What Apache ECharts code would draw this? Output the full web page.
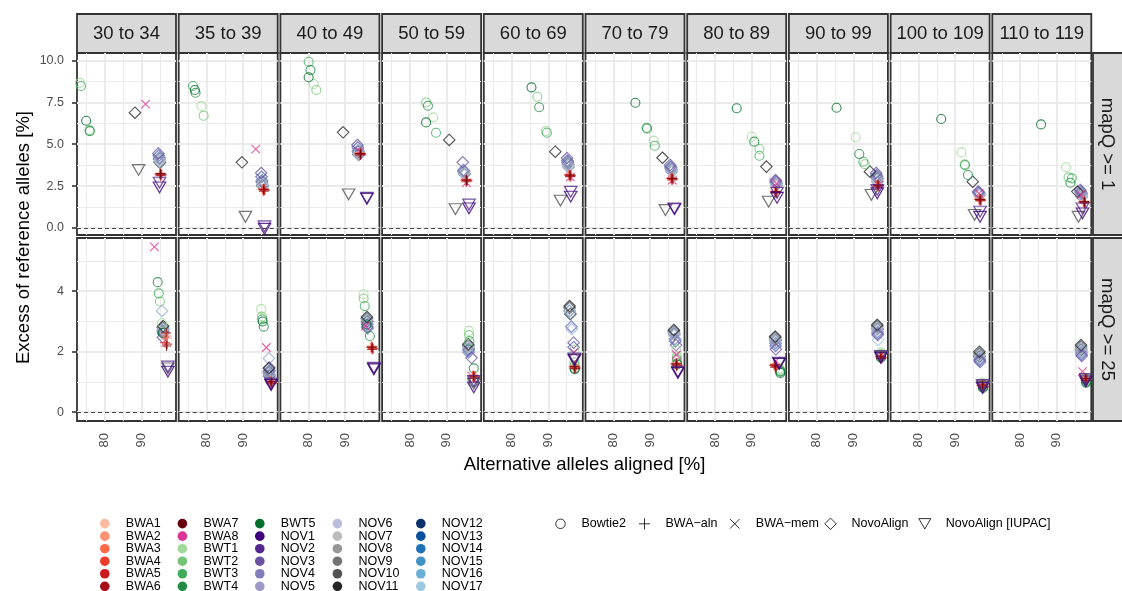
<!DOCTYPE html>
<html>
<head>
<meta charset="utf-8">
<script src="https://cdn.jsdelivr.net/npm/echarts@6/dist/echarts.min.js"></script>
<style>
  html, body { margin: 0; padding: 0; background: #fff; }
  #chart { width: 1122px; height: 591px; }
</style>
</head>
<body>
<div id="chart"></div>
<script>
// ---- facets, samples and ticks ----
const ageBins = ['30 to 34', '35 to 39', '40 to 49', '50 to 59', '60 to 69',
                 '70 to 79', '80 to 89', '90 to 99', '100 to 109', '110 to 119'];
const mapqRows = ['mapQ >= 1', 'mapQ >= 25'];
const samples = ['BWA1', 'BWA2', 'BWA3', 'BWA4', 'BWA5', 'BWA6', 'BWA7', 'BWA8',
                 'BWT1', 'BWT2', 'BWT3', 'BWT4', 'BWT5',
                 'NOV1', 'NOV2', 'NOV3', 'NOV4', 'NOV5', 'NOV6', 'NOV7', 'NOV8', 'NOV9',
                 'NOV10', 'NOV11', 'NOV12', 'NOV13', 'NOV14', 'NOV15', 'NOV16', 'NOV17'];
const sampleColors = ['#FCBBA1', '#FC9272', '#FB6A4A', '#EF3B2C', '#CB181D', '#A50F15', '#67000D', '#DD3497',
                      '#A1D99B', '#74C476', '#41AB5D', '#238B45', '#006D2C',
                      '#3F007D', '#54278F', '#6A51A3', '#807DBA', '#9E9AC8', '#BCBDDC', '#BDBDBD', '#969696', '#737373',
                      '#525252', '#252525', '#08306B', '#08519C', '#2171B5', '#4292C6', '#6BAED6', '#9ECAE1'];
const aligners = ['Bowtie2', 'BWA\u2212aln', 'BWA\u2212mem', 'NovoAlign', 'NovoAlign [IUPAC]'];
// aligner (index into aligners) used by each sample
const sampleAligner = [1, 1, 1, 1, 1, 1, 1, 2,
                       0, 0, 0, 0, 0,
                       4, 4, 3, 3, 3, 3, 3, 3, 3,
                       4, 3, 3, 3, 3, 3, 3, 3];
const xTicks = [80, 90];
const xMinorTicks = [75, 85, 95];
const yTicksTop = [0, 2.5, 5, 7.5, 10];
const yMinorTop = [1.25, 3.75, 6.25, 8.75];
const yTicksBottom = [0, 2, 4];
const yMinorBottom = [1, 3, 5];

// ---- values: [alternative aligned %, excess reference %]
// first ten pairs: mapQ >= 1, last ten: mapQ >= 25, both in ageBins order ----
const BWA1 = [[95.0,3.28],[95.4,2.35],[94.0,4.50],[95.2,2.90],[95.7,3.20],[95.8,3.00],[96.4,2.21],[96.5,2.60],[96.6,1.75],[97.3,1.61],
              [96.5,2.60],[97.4,1.05],[97.2,2.20],[97.2,1.25],[97.0,1.55],[97.0,1.65],[96.2,1.60],[97.3,1.89],[97.3,0.94],[97.7,1.16]];
const BWA2 = [[95.4,3.22],[95.8,2.28],[94.4,4.42],[95.6,2.84],[96.1,3.13],[96.2,2.93],[96.8,2.14],[96.9,2.53],[97.0,1.68],[97.7,1.54],
              [96.9,2.45],[97.8,0.98],[97.6,2.12],[97.6,1.17],[97.4,1.48],[97.4,1.57],[96.6,1.53],[97.7,1.82],[97.7,0.87],[98.1,1.09]];
const BWA3 = [[95.2,3.26],[95.6,2.33],[94.2,4.47],[95.4,2.88],[95.9,3.18],[96.0,2.98],[96.6,2.19],[96.7,2.58],[96.8,1.73],[97.5,1.59],
              [96.7,2.52],[97.6,1.03],[97.4,2.17],[97.4,1.22],[97.2,1.53],[97.2,1.62],[96.4,1.58],[97.5,1.87],[97.5,0.92],[97.9,1.14]];
const BWA4 = [[94.9,3.20],[95.3,2.30],[93.9,4.44],[95.1,2.85],[95.6,3.15],[95.7,2.95],[96.3,2.16],[96.4,2.55],[96.5,1.70],[97.2,1.56],
              [96.4,2.30],[97.3,1.00],[97.1,2.14],[97.1,1.19],[96.9,1.50],[96.9,1.59],[96.1,1.55],[97.2,1.84],[97.2,0.89],[97.6,1.11]];
const BWA5 = [[95.5,3.18],[95.9,2.26],[94.5,4.40],[95.7,2.82],[96.2,3.11],[96.3,2.91],[96.9,2.12],[97.0,2.51],[97.1,1.66],[97.8,1.52],
              [97.0,2.25],[97.9,0.97],[97.7,2.10],[97.7,1.15],[97.5,1.46],[97.5,1.55],[96.7,1.51],[97.8,1.80],[97.8,0.85],[98.2,1.07]];
const BWA6 = [[95.2,3.12],[95.6,2.20],[94.2,4.36],[95.4,2.76],[95.9,3.06],[96.0,2.86],[96.6,2.08],[96.7,2.46],[96.8,1.62],[97.5,1.48],
              [96.7,2.62],[97.6,0.94],[97.4,2.08],[97.4,1.12],[97.2,1.44],[97.2,1.52],[96.4,1.49],[97.5,1.78],[97.5,0.83],[97.9,1.05]];
const BWA7 = [[95.2,3.24],[95.6,2.31],[94.2,4.45],[95.4,2.86],[95.9,3.16],[96.0,2.96],[96.6,2.17],[96.7,2.56],[96.8,1.71],[97.5,1.57],
              [96.8,2.19],[97.6,1.01],[97.4,2.15],[97.4,1.20],[97.2,1.51],[97.2,1.60],[96.4,1.56],[97.5,1.85],[97.5,0.90],[97.9,1.12]];
const BWA8 = [[91.1,7.39],[93.4,4.71],[94.0,4.55],[95.4,2.70],[96.0,3.05],[96.1,2.85],[96.7,2.66],[96.9,2.56],[96.5,2.07],[96.6,1.97],
              [93.5,5.47],[96.3,2.14],[95.6,2.85],[96.8,1.20],[97.0,1.98],[97.2,1.90],[96.6,1.70],[97.4,1.90],[97.4,0.95],[97.0,1.34]];
const BWT1 = [[73.2,8.66],[78.6,7.27],[81.5,8.59],[86.3,6.60],[89.3,5.78],[91.0,5.21],[90.0,5.44],[90.6,5.41],[91.7,4.51],[92.5,3.62],
              [95.6,2.95],[94.9,3.41],[95.1,3.90],[96.1,2.69],[97.1,2.06],[97.2,2.06],[97.6,1.45],[97.5,1.98],[97.5,0.98],[97.9,1.12]];
const BWT2 = [[75.8,5.84],[79.2,6.70],[82.2,8.23],[84.4,7.49],[87.0,7.83],[89.0,5.98],[92.1,4.71],[93.1,3.80],[92.6,3.80],[93.2,3.02],
              [95.0,3.66],[95.1,3.16],[95.1,3.76],[96.1,2.55],[97.1,1.65],[97.3,1.84],[97.7,1.40],[97.5,1.92],[97.5,0.92],[97.9,1.08]];
const BWT3 = [[73.5,8.47],[76.3,8.47],[80.1,9.92],[87.1,5.68],[89.6,5.68],[91.3,4.91],[92.1,4.31],[92.7,3.95],[92.7,3.75],[94.1,2.96],
              [94.7,3.93],[95.2,3.07],[95.4,3.51],[96.2,2.35],[97.2,1.55],[97.3,1.75],[97.8,1.36],[97.5,1.88],[97.5,0.88],[98.0,1.04]];
const BWT4 = [[75.9,5.78],[77.0,8.07],[80.6,9.42],[84.9,7.29],[87.5,7.20],[89.2,5.94],[90.7,5.15],[91.6,4.41],[93.5,3.16],[93.7,2.70],
              [94.4,4.30],[95.6,2.83],[96.8,2.52],[97.4,1.45],[97.2,1.45],[97.4,1.62],[97.8,1.34],[97.5,1.84],[97.6,0.84],[98.0,1.01]];
const BWT5 = [[74.9,6.40],[76.8,8.23],[80.1,8.99],[84.4,6.30],[85.4,8.39],[86.0,7.47],[85.9,7.14],[85.4,7.17],[86.2,6.50],[85.7,6.18],
              [95.8,2.62],[95.3,3.00],[95.9,2.90],[97.4,1.00],[97.2,1.42],[97.4,1.58],[97.8,1.30],[97.5,1.80],[97.6,0.80],[98.0,0.98]];
const NOV1 = [[94.9,2.42],[95.8,-0.05],[96.0,1.74],[96.1,1.17],[96.1,1.87],[96.7,1.12],[96.9,1.80],[96.5,2.07],[96.8,0.67],[97.0,0.87],
              [97.2,1.34],[97.6,0.90],[97.9,1.42],[97.4,0.82],[97.1,1.72],[97.6,1.30],[97.5,1.60],[97.5,1.80],[97.5,0.80],[97.9,1.02]];
const NOV2 = [[94.9,2.70],[95.8,0.10],[96.0,1.80],[96.1,1.40],[96.1,2.16],[96.6,1.17],[96.9,2.10],[96.5,2.27],[96.8,0.97],[97.0,1.17],
              [97.2,1.51],[97.6,0.95],[97.9,1.47],[97.4,1.03],[97.1,1.78],[97.6,1.34],[97.5,1.64],[97.5,1.86],[97.5,0.90],[97.9,1.10]];
const NOV3 = [[94.6,4.45],[94.9,3.28],[93.4,4.95],[94.4,3.92],[95.1,4.17],[95.5,3.76],[96.5,2.86],[96.2,3.28],[96.3,2.17],[96.4,2.27],
              [95.8,2.48],[97.1,1.48],[96.1,2.82],[96.8,1.80],[96.9,2.30],[97.1,2.22],[96.6,2.08],[96.6,2.55],[96.7,1.70],[96.8,1.86]];
const NOV4 = [[94.7,4.32],[95.0,3.05],[93.5,4.80],[94.6,3.45],[95.2,4.02],[95.6,3.65],[96.6,2.78],[96.3,3.15],[96.4,2.12],[96.5,2.18],
              [95.9,2.60],[97.1,1.38],[96.1,2.90],[96.0,2.05],[96.9,2.15],[96.9,2.35],[96.5,2.20],[96.6,2.60],[96.7,1.75],[96.7,1.92]];
const NOV5 = [[94.9,4.20],[95.1,2.85],[93.6,4.62],[94.7,3.38],[95.3,3.88],[95.7,3.55],[96.6,2.70],[96.4,3.02],[96.5,2.07],[96.6,2.08],
              [95.8,2.70],[97.0,1.30],[96.2,2.78],[96.0,1.98],[96.3,2.83],[96.8,2.42],[96.5,2.28],[96.6,2.65],[96.8,1.66],[96.7,1.98]];
const NOV6 = [[95.0,4.05],[95.2,2.62],[93.7,4.45],[94.8,3.28],[95.4,3.75],[95.8,3.45],[96.7,2.62],[96.5,2.88],[96.6,2.02],[96.7,1.97],
              [95.6,3.35],[97.0,1.78],[96.0,2.95],[95.9,2.12],[96.4,2.75],[96.6,2.55],[96.4,2.35],[96.5,2.72],[96.7,1.80],[96.7,2.02]];
const NOV7 = [[94.9,3.95],[95.3,2.48],[93.8,4.35],[94.9,3.20],[95.5,3.64],[95.9,3.36],[96.8,2.56],[96.6,2.76],[96.7,1.97],[96.8,1.87],
              [95.9,2.75],[97.1,1.24],[96.0,3.05],[95.9,2.18],[95.8,3.35],[96.5,2.62],[96.4,2.42],[96.5,2.78],[96.6,1.88],[96.6,2.10]];
const NOV8 = [[94.8,4.12],[95.1,2.75],[93.6,4.55],[94.7,3.35],[95.3,3.94],[95.7,3.60],[96.6,2.74],[96.4,3.08],[96.5,2.10],[96.6,2.12],
              [95.8,2.80],[97.0,1.34],[96.0,3.10],[95.9,2.20],[95.8,3.45],[96.5,2.68],[96.4,2.46],[96.5,2.84],[96.6,1.94],[96.6,2.16]];
const NOV9 = [[95.0,3.90],[95.2,2.55],[93.7,4.40],[94.8,3.25],[95.4,3.80],[95.8,3.48],[96.7,2.66],[96.5,2.95],[96.6,2.04],[96.7,2.02],
              [95.9,2.65],[97.1,1.20],[96.1,3.00],[96.0,2.10],[96.0,3.25],[96.6,2.59],[96.5,2.38],[96.6,2.75],[96.6,1.84],[96.6,2.06]];
const NOV10 = [[89.2,3.46],[90.6,0.67],[91.0,2.00],[92.4,1.12],[93.3,1.63],[94.2,1.07],[94.6,1.57],[94.9,1.97],[95.3,0.78],[95.9,0.67],
               [97.2,1.45],[97.6,0.92],[97.9,1.44],[97.4,0.95],[97.1,1.75],[97.6,1.32],[97.5,1.62],[97.5,1.83],[97.5,0.85],[97.9,1.06]];
const NOV11 = [[88.2,6.88],[89.65,3.92],[89.5,5.71],[90.7,5.25],[91.9,4.55],[93.4,4.19],[94.0,3.66],[94.5,3.36],[94.8,2.76],[95.6,2.17],
               [95.9,2.85],[97.0,1.45],[96.0,3.15],[95.9,2.25],[95.8,3.51],[96.5,2.72],[96.4,2.50],[96.5,2.89],[96.6,2.00],[96.6,2.22]];
const NOV12 = [[94.8,4.12],[95.1,2.75],[93.6,4.55],[94.7,3.35],[95.3,3.94],[95.7,3.60],[96.6,2.74],[96.4,3.08],[96.5,2.10],[96.6,2.12],
               [95.8,2.80],[97.0,1.34],[96.0,3.10],[95.9,2.20],[95.8,3.45],[96.5,2.68],[96.4,2.46],[96.5,2.84],[96.6,1.94],[96.6,2.16]];
const NOV13 = [[95.0,3.90],[95.2,2.55],[93.7,4.40],[94.8,3.25],[95.4,3.80],[95.8,3.48],[96.7,2.66],[96.5,2.95],[96.6,2.04],[96.7,2.02],
               [95.9,2.65],[97.1,1.20],[96.1,3.00],[96.0,2.10],[96.0,3.25],[96.6,2.59],[96.5,2.38],[96.6,2.75],[96.6,1.84],[96.6,2.06]];
const NOV14 = [[94.9,3.95],[95.3,2.48],[93.8,4.35],[94.9,3.20],[95.5,3.64],[95.9,3.36],[96.8,2.56],[96.6,2.76],[96.7,1.97],[96.8,1.87],
               [95.9,2.75],[97.1,1.24],[96.0,3.05],[95.9,2.18],[95.8,3.35],[96.5,2.62],[96.4,2.42],[96.5,2.78],[96.6,1.88],[96.6,2.10]];
const NOV15 = [[94.9,4.20],[95.1,2.85],[93.6,4.62],[94.7,3.38],[95.3,3.88],[95.7,3.55],[96.6,2.70],[96.4,3.02],[96.5,2.07],[96.6,2.08],
               [95.8,2.70],[97.0,1.30],[96.2,2.78],[96.0,1.98],[96.3,2.83],[96.8,2.42],[96.5,2.28],[96.6,2.65],[96.8,1.66],[96.7,1.98]];
const NOV16 = [[94.7,4.32],[95.0,3.05],[93.5,4.80],[94.6,3.45],[95.2,4.02],[95.6,3.65],[96.6,2.78],[96.3,3.15],[96.4,2.12],[96.5,2.18],
               [95.9,2.60],[97.1,1.38],[96.1,2.90],[96.0,2.05],[96.9,2.15],[96.9,2.35],[96.5,2.20],[96.6,2.60],[96.7,1.75],[96.7,1.92]];
const NOV17 = [[95.0,4.05],[95.2,2.62],[93.7,4.45],[94.8,3.28],[95.4,3.75],[95.8,3.45],[96.7,2.62],[96.5,2.88],[96.6,2.02],[96.7,1.97],
               [95.6,3.35],[97.0,1.78],[96.0,2.95],[95.9,2.12],[96.4,2.75],[96.6,2.55],[96.4,2.35],[96.7,2.39],[96.7,1.80],[96.7,2.02]];

const sampleValues = [BWA1, BWA2, BWA3, BWA4, BWA5, BWA6, BWA7, BWA8,
                      BWT1, BWT2, BWT3, BWT4, BWT5,
                      NOV1, NOV2, NOV3, NOV4, NOV5, NOV6, NOV7, NOV8, NOV9,
                      NOV10, NOV11, NOV12, NOV13, NOV14, NOV15, NOV16, NOV17];

// layering of the points inside each panel (first drawn at the bottom)
const drawOrder = ['NOV12', 'NOV13', 'NOV14', 'NOV15', 'NOV16', 'NOV17', 'NOV9', 'NOV8', 'NOV7', 'NOV6',
                   'NOV5', 'NOV4', 'NOV3', 'NOV11', 'BWT1', 'BWT2', 'BWT3', 'BWT4', 'BWT5', 'BWA8',
                   'BWA1', 'BWA2', 'BWA3', 'BWA4', 'BWA5', 'BWA6', 'BWA7', 'NOV10', 'NOV2', 'NOV1'];

// ---- layout & style ----
const font = 'Liberation Sans, Arial, Helvetica, sans-serif';
const colLeft = ageBins.map((_, c) => 77 + c * 101.7);
const panelWidth = 99;
const rowTop = [53, 238];
const rowHeight = [182, 183];
const xRange = [72.4, 99.4];
const yRange = [[-0.42, 10.44], [-0.29, 5.76]];
const yMajor = [yTicksTop, yTicksBottom];
const yMinor = [yMinorTop, yMinorBottom];
const yFormat = [v => v.toFixed(1), v => String(v)];

const plusPath = 'path://M5,0L5,10M0,5L10,5';
const crossPath = 'path://M0,0L10,10M10,0L0,10';
const diamondPath = 'path://M5,0L10,5L5,10L0,5Z';
const triDownPath = 'path://M0,0L12,0L6,10.4Z';
const markerStyle = [
  { symbol: 'circle', size: 9, width: 1.1 },
  { symbol: plusPath, size: 10, width: 1.15 },
  { symbol: crossPath, size: 8.5, width: 1.1 },
  { symbol: diamondPath, size: 11.5, width: 1.1 },
  { symbol: triDownPath, size: [12.5, 10.8], width: 1.2 }
];

const grids = [], xAxes = [], yAxes = [], series = [];

for (let r = 0; r < mapqRows.length; r++) {
  for (let c = 0; c < ageBins.length; c++) {
    const gi = grids.length;
    const bottomRow = r === mapqRows.length - 1;
    const firstCol = c === 0;
    grids.push({
      left: colLeft[c], top: rowTop[r], width: panelWidth, height: rowHeight[r],
      show: true, backgroundColor: '#fff', borderColor: '#333', borderWidth: 1.8
    });
    xAxes.push({
      type: 'value', gridIndex: gi, min: xRange[0], max: xRange[1], show: bottomRow,
      axisLine: { show: false }, splitLine: { show: false },
      axisTick: { show: bottomRow, customValues: xTicks, length: 5, lineStyle: { color: '#333', width: 1.6 } },
      axisLabel: { show: bottomRow, customValues: xTicks, rotate: 90, margin: 12,
                   fontSize: 13, color: '#4D4D4D', fontFamily: font }
    });
    yAxes.push({
      type: 'value', gridIndex: gi, min: yRange[r][0], max: yRange[r][1], show: firstCol,
      axisLine: { show: false }, splitLine: { show: false },
      axisTick: { show: firstCol, customValues: yMajor[r], length: 5, lineStyle: { color: '#333', width: 1.6 } },
      axisLabel: { show: firstCol, customValues: yMajor[r], formatter: yFormat[r], margin: 13,
                   fontSize: 12.5, color: '#4D4D4D', fontFamily: font }
    });

    // panel grid lines
    const gridLines = [
      ...xTicks.map(v => ({ xAxis: v, lineStyle: { width: 2 } })),
      ...xMinorTicks.map(v => ({ xAxis: v, lineStyle: { width: 1 } })),
      ...yMajor[r].map(v => ({ yAxis: v, lineStyle: { width: 2 } })),
      ...yMinor[r].map(v => ({ yAxis: v, lineStyle: { width: 1 } }))
    ];
    series.push({
      type: 'scatter', xAxisIndex: gi, yAxisIndex: gi, data: [], silent: true, z: 1,
      markLine: {
        silent: true, z: 1, symbol: ['none', 'none'], label: { show: false }, animation: false,
        emphasis: { disabled: true },
        lineStyle: { color: '#EBEBEB', type: 'solid' },
        data: gridLines
      }
    });

    // sample points of this panel
    const items = drawOrder.map(name => {
      const s = samples.indexOf(name);
      const m = markerStyle[sampleAligner[s]];
      return {
        value: sampleValues[s][r * ageBins.length + c],
        symbol: m.symbol, symbolSize: m.size,
        itemStyle: { color: 'rgba(0,0,0,0)', borderColor: sampleColors[s], borderWidth: m.width }
      };
    });
    series.push({
      type: 'scatter', xAxisIndex: gi, yAxisIndex: gi, z: 3, silent: true, data: items,
      markLine: {
        silent: true, symbol: ['none', 'none'], label: { show: false }, animation: false,
        emphasis: { disabled: true },
        lineStyle: { color: '#333', type: [4, 3], width: 0.9 },
        data: [{ yAxis: 0 }]
      }
    });
  }
}

// legend entries (no marks of their own)
samples.forEach((name, s) => series.push({
  type: 'scatter', name, data: [], xAxisIndex: 0, yAxisIndex: 0, itemStyle: { color: sampleColors[s] }
}));
aligners.forEach(name => series.push({
  type: 'scatter', name, data: [], xAxisIndex: 0, yAxisIndex: 0, itemStyle: { color: '#000' }
}));

const legendText = { fontSize: 12.5, lineHeight: 12.35, color: '#000', fontFamily: font };
const legends = [];
// left edge of each colour column (its icons start here)
const colorLegendLeft = [100, 177.6, 255, 332.6, 416];
colorLegendLeft.forEach((left, k) => {
  legends.push({
    orient: 'vertical', left, top: 517.1, height: 90, padding: 0, itemGap: -0.46,
    itemWidth: 32, itemHeight: 9.6, selectedMode: false, symbolKeepAspect: true,
    textStyle: legendText,
    data: samples.slice(k * 6, k * 6 + 6).map(name => ({
      name, icon: 'circle',
      itemStyle: { color: sampleColors[samples.indexOf(name)], borderWidth: 0, opacity: 1 }
    }))
  });
});
const shapeCenters = [560, 644, 734.3, 830, 924.3];
const shapeIcons = ['circle', plusPath, crossPath, diamondPath, triDownPath];
const shapeIconHeights = [9.5, 11, 9.5, 11.5, 10.4];
const shapeIconWidths = [9.5, 11, 9.5, 11.5, 12];
aligners.forEach((name, a) => {
  legends.push({
    orient: 'horizontal', left: shapeCenters[a] - shapeIconWidths[a] / 2, top: 523.5 - 6.2, padding: 0,
    itemWidth: 32, itemHeight: shapeIconHeights[a], selectedMode: false, symbolKeepAspect: true,
    textStyle: legendText,
    data: [{ name, icon: shapeIcons[a],
             itemStyle: { color: 'rgba(0,0,0,0)', borderColor: '#000', borderWidth: 1 } }]
  });
});

// strips and axis titles
const graphics = [];
ageBins.forEach((label, c) => {
  graphics.push({
    type: 'rect', silent: true,
    shape: { x: colLeft[c], y: 14, width: panelWidth, height: 39 },
    style: { fill: '#D9D9D9', stroke: '#333', lineWidth: 1.8 }
  });
  graphics.push({
    type: 'text', silent: true, x: colLeft[c] + panelWidth / 2, y: 33.5,
    style: { text: label, fontSize: 18.5, fontFamily: font, fill: '#1A1A1A',
             align: 'center', verticalAlign: 'middle' }
  });
});
mapqRows.forEach((label, r) => {
  graphics.push({
    type: 'rect', silent: true,
    shape: { x: 1093, y: rowTop[r], width: 40, height: rowHeight[r] },
    style: { fill: '#D9D9D9', stroke: '#333', lineWidth: 1.8 }
  });
  graphics.push({
    type: 'text', silent: true, x: 1107.5, y: rowTop[r] + rowHeight[r] / 2, rotation: -Math.PI / 2,
    style: { text: label, fontSize: 18.5, fontFamily: font, fill: '#1A1A1A',
             align: 'center', verticalAlign: 'middle' }
  });
});
graphics.push({
  type: 'text', silent: true, x: 24, y: 237.5, rotation: Math.PI / 2,
  style: { text: 'Excess of reference alleles [%]', fontSize: 18.5, fontFamily: font, fill: '#000',
           align: 'center', verticalAlign: 'middle' }
});
graphics.push({
  type: 'text', silent: true, x: 584.5, y: 464.5,
  style: { text: 'Alternative alleles aligned [%]', fontSize: 18.5, fontFamily: font, fill: '#000',
           align: 'center', verticalAlign: 'middle' }
});

const chart = echarts.init(document.getElementById('chart'), null, { renderer: 'canvas' });
chart.setOption({
  animation: false,
  backgroundColor: '#fff',
  grid: grids,
  xAxis: xAxes,
  yAxis: yAxes,
  legend: legends,
  graphic: graphics,
  series
});
</script>
</body>
</html>
